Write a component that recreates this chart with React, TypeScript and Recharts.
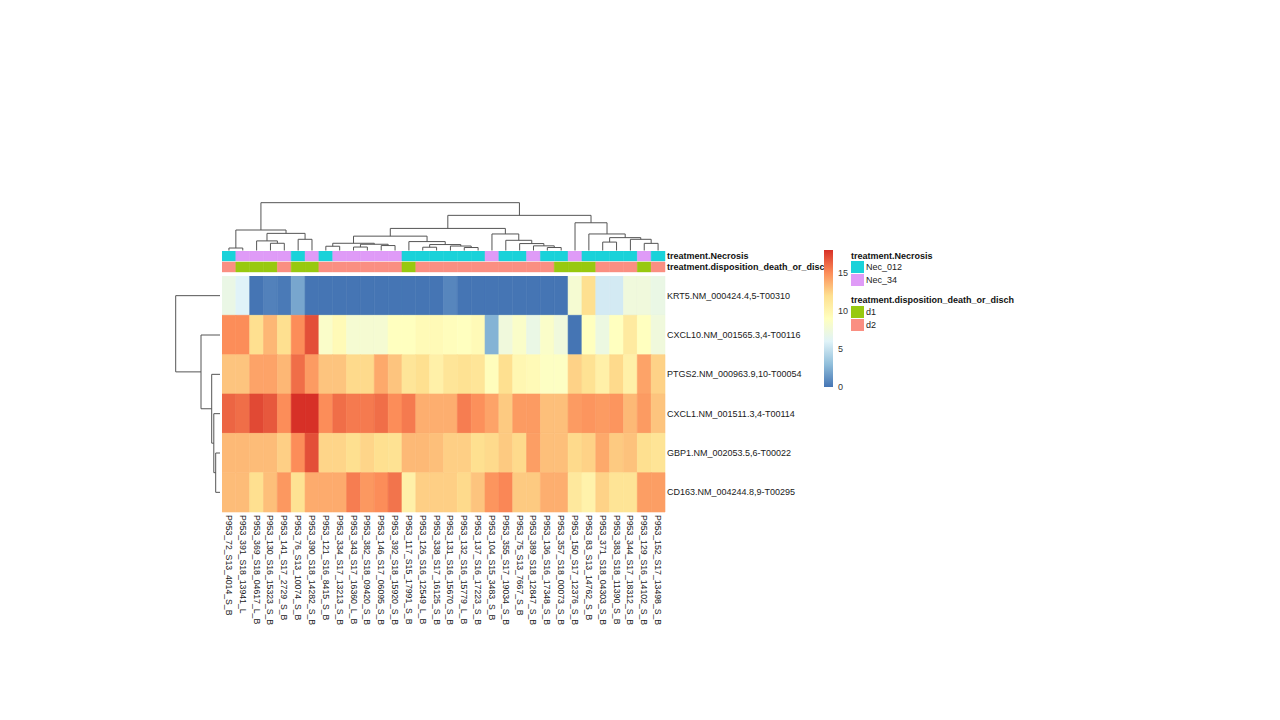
import React from "react";
import {
  ScatterChart,
  Scatter,
  XAxis,
  YAxis,
  ReferenceArea,
  ReferenceLine,
} from "recharts";

// sample columns, in dendrogram order
const samples = [
  "P953_72_S13_4014_S_B",
  "P953_391_S18_13941_L",
  "P953_369_S18_04617_L_B",
  "P953_130_S16_15323_S_B",
  "P953_141_S17_2729_S_B",
  "P953_76_S13_10074_S_B",
  "P953_390_S18_14282_S_B",
  "P953_121_S16_8415_S_B",
  "P953_334_S17_13213_S_B",
  "P953_343_S17_16360_L_B",
  "P953_382_S18_09420_S_B",
  "P953_146_S17_06095_S_B",
  "P953_392_S18_15920_S_B",
  "P953_117_S15_17991_S_B",
  "P953_126_S16_12549_L_B",
  "P953_338_S17_16125_S_B",
  "P953_131_S16_15670_S_B",
  "P953_132_S16_15779_L_B",
  "P953_137_S16_17223_S_B",
  "P953_104_S15_3483_S_B",
  "P953_355_S17_19034_S_B",
  "P953_75_S13_7667_S_B",
  "P953_389_S18_12847_S_B",
  "P953_136_S16_17348_S_B",
  "P953_357_S18_00073_S_B",
  "P953_150_S17_12376_S_B",
  "P953_83_S13_14762_S_B",
  "P953_371_S18_04303_S_B",
  "P953_383_S18_11390_S_B",
  "P953_344_S17_18312_S_B",
  "P953_129_S16_14102_S_B",
  "P953_152_S17_13498_S_B",
];

const genes = [
  "KRT5.NM_000424.4,5-T00310",
  "CXCL10.NM_001565.3,4-T00116",
  "PTGS2.NM_000963.9,10-T00054",
  "CXCL1.NM_001511.3,4-T00114",
  "GBP1.NM_002053.5,6-T00022",
  "CD163.NM_004244.8,9-T00295",
];

// expression values per gene (same column order as samples)
const krt5 = [7, 6, 0, 0.5, 0.2, 2, 0, 0, 0, 0, 0, 0, 0, 0, 0, 0, 0.7, 0, 0, 0, 0, 0, 0, 0, 0, 8, 12, 5.5, 5.5, 7.5, 7.5, 7];
const cxcl10 = [15, 15, 12, 13.5, 12, 15, 17, 8.5, 9.5, 8, 8, 8, 9, 9, 9.5, 9.5, 9.2, 9, 9.5, 2.5, 7.5, 8.5, 7, 8.5, 7.5, 0, 9, 7.2, 9, 11, 9, 7.5];
const ptgs2 = [13, 13, 14.2, 14.2, 13.5, 16, 14.5, 13, 13, 12.2, 12.2, 14, 13, 11.5, 12, 10.5, 11.5, 11.8, 11.5, 9.2, 12, 9.8, 9.5, 8.8, 8.8, 12.5, 11.8, 10.5, 12.2, 10.5, 14.2, 12.5];
const cxcl1 = [16.3, 16, 17.2, 16.7, 15, 18, 18, 15, 16, 15.6, 15.6, 16, 15, 15.6, 13.8, 13.8, 13.8, 15.5, 14.9, 14.2, 12.8, 14.5, 14.5, 13.2, 13.2, 14.5, 14.7, 14.5, 14.7, 13.4, 14.5, 13];
const gbp1 = [13.4, 13.4, 13.3, 13.3, 12.6, 15, 17, 12.4, 12.4, 12, 12.4, 12, 11.8, 13.4, 13.4, 13.2, 12.6, 12.6, 12, 12.2, 12.8, 12.2, 14.4, 13.2, 13.2, 12.2, 12.5, 14, 12.8, 13.1, 12, 11.6];
const cd163 = [13.3, 13.3, 12, 13.2, 14.6, 11.8, 13.9, 13.9, 13.9, 15.5, 14.6, 15, 15.8, 10.5, 12.6, 12.6, 12.6, 12.2, 13, 14.7, 15.2, 12.8, 12.8, 13.8, 13.8, 11.2, 10.3, 12.5, 11.6, 11.6, 14.4, 14.4];
const geneValues = [krt5, cxcl10, ptgs2, cxcl1, gbp1, cd163];

// column annotations
const necrosis = [
  "Nec_012", "Nec_34", "Nec_34", "Nec_34", "Nec_34", "Nec_012", "Nec_34", "Nec_012",
  "Nec_34", "Nec_34", "Nec_34", "Nec_34", "Nec_34", "Nec_012", "Nec_012", "Nec_012",
  "Nec_012", "Nec_012", "Nec_012", "Nec_34", "Nec_012", "Nec_012", "Nec_34", "Nec_012",
  "Nec_012", "Nec_34", "Nec_012", "Nec_012", "Nec_012", "Nec_012", "Nec_34", "Nec_012",
];
const disposition = [
  "d2", "d1", "d1", "d1", "d2", "d1", "d1", "d2",
  "d2", "d2", "d2", "d2", "d2", "d1", "d2", "d2",
  "d2", "d2", "d2", "d2", "d2", "d2", "d2", "d2",
  "d1", "d1", "d1", "d2", "d2", "d2", "d1", "d2",
];
const annotationNames = ["treatment.Necrosis", "treatment.disposition_death_or_disch"];
const annotationColors: Record<string, string> = {
  Nec_012: "#1ad2d9",
  Nec_34: "#df9bf7",
  d1: "#98c90f",
  d2: "#fa8f82",
};

// hierarchical merges: [left, right, height]; numbers = leaves, "mK" = K-th merge
type Ref = number | string;
const colMerges: [Ref, Ref, number][] = [
  [0, 1, 2.5],
  [3, 4, 7.3],
  [2, "m1", 9.7],
  [5, 6, 11.3],
  ["m2", "m3", 17.3],
  ["m0", "m4", 20.7],
  [7, 8, 4.3],
  [9, 10, 3.5],
  [11, 12, 5],
  ["m7", "m8", 6.3],
  ["m6", "m9", 7.3],
  [14, 15, 3.3],
  [17, 18, 3],
  [16, "m12", 4.5],
  ["m11", "m13", 6],
  [13, "m14", 9],
  ["m10", "m15", 14.5],
  [23, 24, 3],
  [22, "m17", 4.7],
  [21, "m18", 7],
  [20, "m19", 10.3],
  [19, "m20", 16.7],
  ["m16", "m21", 22.3],
  [27, 28, 8.5],
  [30, 31, 7.2],
  [29, "m24", 11.3],
  ["m23", "m25", 13],
  [26, "m26", 16.7],
  [25, "m27", 28],
  ["m22", "m28", 35.5],
  ["m5", "m29", 48.3],
];
const rowMerges: [Ref, Ref, number][] = [
  [4, 5, 4.3],
  [3, "m0", 6.2],
  [2, "m1", 8.3],
  [1, "m2", 19],
  [0, "m3", 44.3],
];

const paletteStops = ["#4575B4", "#91BFDB", "#E0F3F8", "#FFFFBF", "#FEE090", "#FC8D59", "#D73027"];
const scaleMax = 18;
const legendTicks = [0, 5, 10, 15];

const FONT = '"Liberation Sans", Arial, Helvetica, sans-serif';

function hexToRgb(h: string) {
  const n = parseInt(h.slice(1), 16);
  return [(n >> 16) & 255, (n >> 8) & 255, n & 255];
}

function heatColor(v: number) {
  const t = Math.max(0, Math.min(1, v / scaleMax)) * (paletteStops.length - 1);
  const i = Math.min(Math.floor(t), paletteStops.length - 2);
  const f = t - i;
  const a = hexToRgb(paletteStops[i]);
  const b = hexToRgb(paletteStops[i + 1]);
  const c = a.map((x, k) => Math.round(x + (b[k] - x) * f));
  return `rgb(${c[0]},${c[1]},${c[2]})`;
}

// turn the merge list into line segments (leaf axis position p, height h)
function dendroSegments(merges: [Ref, Ref, number][]) {
  const nodes: { p: number; h: number }[] = [];
  const get = (r: Ref) =>
    typeof r === "number" ? { p: r + 0.5, h: 0 } : nodes[parseInt(r.slice(1), 10)];
  const segs: { p1: number; h1: number; p2: number; h2: number }[] = [];
  merges.forEach(([a, b, h]) => {
    const A = get(a);
    const B = get(b);
    segs.push({ p1: A.p, h1: A.h, p2: A.p, h2: h });
    segs.push({ p1: B.p, h1: B.h, p2: B.p, h2: h });
    segs.push({ p1: A.p, h1: h, p2: B.p, h2: h });
    nodes.push({ p: (A.p + B.p) / 2, h });
  });
  return segs;
}

const cells = geneValues.flatMap((vals, r) =>
  vals.map((v, c) => ({ x: c + 0.5, y: r + 0.5, v, r, c }))
);
const annCells = [necrosis, disposition].flatMap((vals, r) =>
  vals.map((v, c) => ({ x: c + 0.5, y: r + 0.45, v, r, c }))
);
const colLeaves = samples.map((_, i) => ({ x: i + 0.5, y: 0 }));
const rowLeaves = genes.map((_, i) => ({ x: 0, y: i + 0.5 }));
const keyPoints = legendTicks.map((t) => ({ x: 0.5, y: t }));

const emptyShape = () => <g />;

function ColTick(props: any) {
  const { x, y, payload } = props;
  return (
    <text
      x={x}
      y={y}
      transform={`rotate(90, ${x}, ${y})`}
      textAnchor="start"
      dominantBaseline="central"
      fontSize={8.7}
      fontFamily={FONT}
      fill="#1a1a1a"
    >
      {samples[Math.floor(payload.value)]}
    </text>
  );
}

function RowTick(props: any) {
  const { x, y, payload } = props;
  return (
    <text x={x} y={y} textAnchor="start" dominantBaseline="central" fontSize={9} fontFamily={FONT} fill="#1a1a1a">
      {genes[Math.floor(payload.value)]}
    </text>
  );
}

function AnnTick(props: any) {
  const { x, y, payload } = props;
  return (
    <text x={x} y={y} textAnchor="start" dominantBaseline="central" fontSize={9} fontWeight="bold" fontFamily={FONT} fill="#111">
      {annotationNames[Math.floor(payload.value)]}
    </text>
  );
}

function LegendTick(props: any) {
  const { x, y, payload } = props;
  return (
    <text x={x} y={y} textAnchor="start" dominantBaseline="central" fontSize={9} fontFamily={FONT} fill="#333">
      {payload.value}
    </text>
  );
}

const ZERO = { top: 0, right: 0, bottom: 0, left: 0 };
const LINE = "#555555";

export default function App() {
  const colSegs = dendroSegments(colMerges);
  const rowSegs = dendroSegments(rowMerges);
  const nCol = samples.length;
  const nRow = genes.length;

  return (
    <div
      style={{
        position: "absolute",
        left: 0,
        top: 0,
        width: 1280,
        height: 720,
        background: "#fff",
        overflow: "hidden",
        fontFamily: FONT,
      }}
    >
      {/* column dendrogram */}
      <div style={{ position: "absolute", left: 222, top: 200 }}>
        <ScatterChart width={443} height={50.5} margin={ZERO}>
          <XAxis type="number" dataKey="x" domain={[0, nCol]} hide />
          <YAxis type="number" dataKey="y" domain={[0, 51]} hide />
          <Scatter data={colLeaves} shape={emptyShape} isAnimationActive={false} />
          {colSegs.map((s, i) => (
            <ReferenceLine
              key={i}
              segment={[
                { x: s.p1, y: s.h1 },
                { x: s.p2, y: s.h2 },
              ]}
              stroke={LINE}
              strokeWidth={1}
              ifOverflow="visible"
            />
          ))}
        </ScatterChart>
      </div>

      {/* annotation bars */}
      <div style={{ position: "absolute", left: 222, top: 251 }}>
        <ScatterChart width={620} height={22} margin={ZERO} style={{ overflow: "visible" }}>
          <XAxis type="number" dataKey="x" domain={[0, nCol]} hide />
          <YAxis
            type="number"
            dataKey="y"
            domain={[0, 2]}
            reversed
            orientation="right"
            width={177}
            ticks={[0.45, 1.45]}
            interval={0}
            tickSize={0}
            tickMargin={2}
            axisLine={false}
            tickLine={false}
            tick={<AnnTick />}
          />
          <Scatter data={annCells} shape={emptyShape} isAnimationActive={false} />
          {annCells.map((d, i) => (
            <ReferenceArea
              key={i}
              x1={d.c}
              x2={d.c + 1}
              y1={d.r}
              y2={d.r + 0.9}
              fill={annotationColors[d.v]}
              fillOpacity={1}
              stroke={annotationColors[d.v]}
              strokeWidth={0.5}
              ifOverflow="visible"
            />
          ))}
        </ScatterChart>
      </div>

      {/* row dendrogram */}
      <div style={{ position: "absolute", left: 172, top: 276 }}>
        <ScatterChart width={48} height={236} margin={ZERO}>
          <XAxis type="number" dataKey="x" domain={[0, 48]} reversed hide />
          <YAxis type="number" dataKey="y" domain={[0, nRow]} reversed hide />
          <Scatter data={rowLeaves} shape={emptyShape} isAnimationActive={false} />
          {rowSegs.map((s, i) => (
            <ReferenceLine
              key={i}
              segment={[
                { x: s.h1, y: s.p1 },
                { x: s.h2, y: s.p2 },
              ]}
              stroke={LINE}
              strokeWidth={1}
              ifOverflow="visible"
            />
          ))}
        </ScatterChart>
      </div>

      {/* heatmap */}
      <div style={{ position: "absolute", left: 222, top: 276 }}>
        <ScatterChart width={603} height={361} margin={ZERO}>
          <XAxis
            type="number"
            dataKey="x"
            domain={[0, nCol]}
            ticks={samples.map((_, i) => i + 0.5)}
            interval={0}
            height={125}
            tickSize={0}
            tickMargin={3}
            axisLine={false}
            tickLine={false}
            tick={<ColTick />}
          />
          <YAxis
            type="number"
            dataKey="y"
            domain={[0, nRow]}
            reversed
            orientation="right"
            width={160}
            ticks={genes.map((_, i) => i + 0.5)}
            interval={0}
            tickSize={0}
            tickMargin={2}
            axisLine={false}
            tickLine={false}
            tick={<RowTick />}
          />
          <Scatter data={cells} shape={emptyShape} isAnimationActive={false} />
          {cells.map((d, i) => {
            const col = heatColor(d.v);
            return (
              <ReferenceArea
                key={i}
                x1={d.c}
                x2={d.c + 1}
                y1={d.r}
                y2={d.r + 1}
                fill={col}
                fillOpacity={1}
                stroke={col}
                strokeWidth={0.6}
                ifOverflow="visible"
              />
            );
          })}
        </ScatterChart>
      </div>

      {/* colour key (drawn over the end of the long annotation label, as in the original) */}
      <div style={{ position: "absolute", left: 824, top: 244 }}>
        <ScatterChart width={30} height={149} margin={{ top: 6, right: 0, bottom: 6, left: 0 }}>
          <defs>
            <linearGradient id="heatKey" x1="0" y1="1" x2="0" y2="0">
              {paletteStops.map((c, i) => (
                <stop key={i} offset={i / (paletteStops.length - 1)} stopColor={c} />
              ))}
            </linearGradient>
          </defs>
          <XAxis type="number" dataKey="x" domain={[0, 1]} hide />
          <YAxis
            type="number"
            dataKey="y"
            domain={[0, scaleMax]}
            orientation="right"
            width={21}
            ticks={legendTicks}
            interval={0}
            tickSize={0}
            tickMargin={5}
            axisLine={false}
            tickLine={false}
            tick={<LegendTick />}
          />
          <Scatter data={keyPoints} shape={emptyShape} isAnimationActive={false} />
          <ReferenceArea x1={0} x2={1} y1={0} y2={scaleMax} fill="url(#heatKey)" fillOpacity={1} ifOverflow="visible" />
        </ScatterChart>
      </div>

      {/* annotation legend */}
      <div style={{ position: "absolute", left: 851, top: 250, fontSize: 9, fontWeight: "bold", lineHeight: "12px", color: "#111" }}>
        treatment.Necrosis
      </div>
      {["Nec_012", "Nec_34"].map((k, i) => (
        <React.Fragment key={k}>
          <div style={{ position: "absolute", left: 851, top: 261 + i * 13, width: 13, height: 12, background: annotationColors[k] }} />
          <div style={{ position: "absolute", left: 866, top: 261 + i * 13, fontSize: 9, lineHeight: "12px", color: "#222" }}>{k}</div>
        </React.Fragment>
      ))}
      <div style={{ position: "absolute", left: 851, top: 294, fontSize: 9, fontWeight: "bold", lineHeight: "12px", color: "#111", whiteSpace: "nowrap" }}>
        treatment.disposition_death_or_disch
      </div>
      {["d1", "d2"].map((k, i) => (
        <React.Fragment key={k}>
          <div style={{ position: "absolute", left: 851, top: 306 + i * 13, width: 13, height: 12, background: annotationColors[k] }} />
          <div style={{ position: "absolute", left: 866, top: 306 + i * 13, fontSize: 9, lineHeight: "12px", color: "#222" }}>{k}</div>
        </React.Fragment>
      ))}
    </div>
  );
}
